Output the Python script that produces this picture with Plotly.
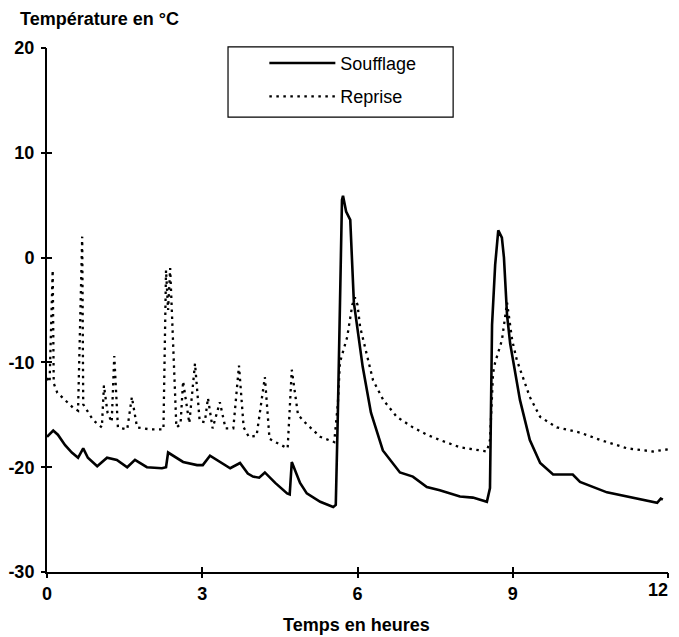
import plotly.graph_objects as go

# Soufflage (solid)
x_souff = [0, 0.12, 0.21, 0.35, 0.48, 0.6, 0.70, 0.79, 0.97, 1.16, 1.35, 1.55, 1.70, 1.93, 2.22, 2.30,
           2.34, 2.51, 2.63, 2.90, 3.01, 3.15, 3.34, 3.54, 3.73, 3.88, 3.98, 4.10, 4.21, 4.41, 4.64,
           4.69, 4.73, 4.89, 5.02, 5.28, 5.53, 5.58, 5.62, 5.66, 5.70, 5.72, 5.78, 5.86, 5.93, 6.10,
           6.26, 6.49, 6.82, 7.07, 7.34, 7.59, 7.98, 8.23, 8.50, 8.56, 8.58, 8.60, 8.66, 8.72, 8.79,
           8.83, 8.89, 8.95, 9.14, 9.33, 9.53, 9.78, 10.16, 10.30, 10.82, 11.32, 11.79, 11.86, 11.90]
y_souff = [-17.1, -16.5, -16.9, -17.9, -18.6, -19.1, -18.2, -19.1, -19.9, -19.1, -19.3, -20.0, -19.3,
           -20.0, -20.1, -20.0, -18.6, -19.1, -19.5, -19.8, -19.8, -18.9, -19.5, -20.1, -19.6, -20.6,
           -20.9, -21.0, -20.5, -21.5, -22.5, -22.6, -19.5, -21.5, -22.5, -23.3, -23.8, -23.6, -15.0,
           -5.0, 5.5, 5.9, 4.4, 3.6, -4.3, -10.4, -14.8, -18.4, -20.5, -20.9, -21.9, -22.2, -22.8,
           -22.9, -23.3, -22.0, -15.0, -6.4, -0.7, 2.6, 1.9, 0.0, -5.5, -8.2, -13.6, -17.4, -19.6,
           -20.7, -20.7, -21.4, -22.4, -22.9, -23.4, -23.0, -23.1]

# Reprise (dotted)
x_rep = [0, 0.05, 0.11, 0.13, 0.2, 0.39, 0.5, 0.6, 0.68, 0.70, 0.77, 0.89, 1.06, 1.10, 1.17, 1.25,
         1.30, 1.37, 1.55, 1.64, 1.74, 2.0, 2.25, 2.30, 2.34, 2.38, 2.5, 2.58, 2.63, 2.75, 2.86, 2.95,
         3.05, 3.11, 3.2, 3.34, 3.45, 3.6, 3.71, 3.8, 3.9, 4.05, 4.21, 4.3, 4.45, 4.65, 4.73, 4.85,
         5.0, 5.28, 5.55, 5.62, 5.66, 5.8, 5.9, 5.95, 6.0, 6.05, 6.3, 6.5, 6.76, 7.07, 7.34, 7.59,
         7.98, 8.5, 8.56, 8.62, 8.66, 8.79, 8.89, 8.99, 9.08, 9.33, 9.53, 9.85, 10.3, 10.69, 11.21,
         11.71, 12.0]
y_rep = [-11.5, -11.9, -1.2, -12.0, -12.9, -13.8, -14.3, -14.6, 2.0, -14.0, -14.6, -15.5, -16.2,
         -12.2, -14.8, -15.7, -9.4, -16.2, -16.4, -13.3, -16.2, -16.4, -16.4, -1.2, -5.0, -1.0, -16.2,
         -15.9, -11.8, -15.8, -10.1, -15.6, -15.7, -13.4, -16.3, -13.8, -16.3, -16.3, -10.3, -16.2,
         -17.1, -17.0, -11.4, -17.3, -17.7, -18.2, -10.7, -15.0, -15.8, -17.1, -17.6, -14.0, -10.0,
         -7.6, -4.5, -3.8, -4.5, -6.6, -11.7, -13.6, -15.2, -16.2, -16.9, -17.4, -18.1, -18.5, -17.4,
         -11.0, -10.0, -7.9, -4.3, -7.9, -9.8, -13.3, -15.2, -16.2, -16.7, -17.4, -18.2, -18.5, -18.3]

x_ticks = [0, 3, 6, 9, 12]
x_ticktext = ["0", "3", "6", "9", ""]   # last label drawn as an annotation (kept inside page)
x_last_label = "12"
y_ticks = [-30, -20, -10, 0, 10, 20]
y_ticktext = ["-30", "-20", "-10", "0", "10", "20"]

FONT = "Liberation Sans, Arial, sans-serif"
BOLD = dict(family=FONT, size=18, color="black", weight="bold")

fig = go.Figure()
fig.add_trace(go.Scatter(x=x_souff, y=y_souff, mode="lines", name="Soufflage",
                         legendgroup="a",
                         line=dict(color="black", width=2.6)))
fig.add_trace(go.Scatter(x=x_rep, y=y_rep, mode="lines", name="Reprise",
                         legendgroup="b",
                         line=dict(color="black", width=2.3, dash="2.5px,4.5px")))

axis_common = dict(showgrid=False, zeroline=False, showline=True, linecolor="black", linewidth=2,
                   ticks="inside", ticklen=5, tickwidth=1.5, tickcolor="black", tickfont=BOLD,
                   automargin=False, ticklabeloverflow="allow")

fig.update_layout(
    width=671, height=629,
    margin=dict(l=39, r=11, t=40, b=65),
    paper_bgcolor="white", plot_bgcolor="white",
    xaxis=dict(range=[0, 12], tickvals=x_ticks, ticktext=x_ticktext, ticklabelstandoff=4,
               **axis_common),
    yaxis=dict(range=[-30, 20], tickvals=y_ticks, ticktext=y_ticktext, ticklabelstandoff=7,
               **axis_common),
    xaxis2=dict(range=[0, 12], overlaying="x", side="bottom", anchor="y", tickvals=x_ticks,
                showticklabels=False, showgrid=False, zeroline=False, showline=False,
                ticks="outside", ticklen=5, tickwidth=1.5, tickcolor="black", automargin=False),
    yaxis2=dict(range=[-30, 20], overlaying="y", side="left", anchor="x", tickvals=y_ticks,
                showticklabels=False, showgrid=False, zeroline=False, showline=False,
                ticks="outside", ticklen=5, tickwidth=1.5, tickcolor="black", automargin=False),
    showlegend=True,
    legend=dict(x=0.350, y=1.006, xanchor="left", yanchor="top",
                bgcolor="rgba(0,0,0,0)", borderwidth=0,
                font=dict(family=FONT, size=18, color="black"),
                itemwidth=66, tracegroupgap=7),
    shapes=[dict(type="rect", xref="paper", yref="paper", x0=0.2915, x1=0.654, y0=0.868, y1=1.002,
                 line=dict(color="black", width=1.2), fillcolor="rgba(0,0,0,0)")],
    annotations=[
        dict(text="Température en °C", xref="paper", yref="paper", x=-0.0467, y=1.056,
             xanchor="left", yanchor="middle", showarrow=False, font=BOLD),
        dict(text="Temps en heures", xref="paper", yref="paper", x=0.4976, y=-0.101,
             xanchor="center", yanchor="middle", showarrow=False, font=BOLD),
        dict(text=x_last_label, xref="x", yref="paper", x=x_ticks[-1], y=-0.0344,
             xanchor="right", yanchor="middle", xshift=2, showarrow=False, font=BOLD),
    ],
)

# invisible trace to keep overlay axes drawn
fig.add_trace(go.Scatter(x=[0], y=[-30], xaxis="x2", yaxis="y2", mode="markers",
                         marker=dict(opacity=0), showlegend=False, hoverinfo="skip"))

fig.write_html("out.html")
